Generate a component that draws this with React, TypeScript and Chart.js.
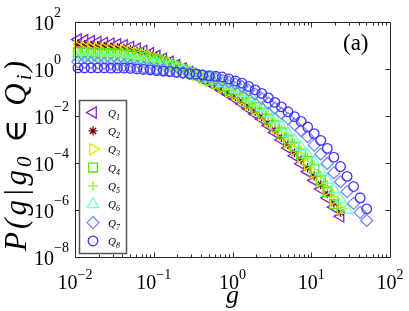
import React, { useEffect, useRef } from 'react';
import { Chart, registerables } from 'chart.js';

Chart.register(...registerables);

// g values (shared sampling grid, log-spaced)
const gValues = [
  0.0109, 0.0132, 0.016, 0.0194, 0.0235, 0.0285, 0.0345, 0.0418, 0.0506, 0.0613, 0.0743, 0.09,
  0.109, 0.132, 0.16, 0.194, 0.235, 0.285, 0.345, 0.418, 0.506, 0.613, 0.743, 0.9,
  1.09, 1.32, 1.6, 1.94, 2.35, 2.85, 3.45, 4.18, 5.06, 6.13, 7.43, 9.0,
  10.9, 13.2, 16.0, 19.4, 23.5, 28.5, 34.5, 41.8, 50.6,
];

const q1 = [17.8, 16.6, 15.1, 14.1, 12.9, 12.0, 11.2, 10.2, 8.71, 7.24, 5.89, 4.68, 3.63, 2.75, 2.04, 1.48, 1.05, 0.741, 0.525, 0.372, 0.263, 0.178, 0.12, 0.0794, 0.0525, 0.0331, 0.0204, 0.0123, 7.41e-3, 3.98e-3, 2.0e-3, 9.55e-4, 4.37e-4, 2.04e-4, 9.33e-5, 4.27e-5, 1.82e-5, 7.76e-6, 3.24e-6, 1.32e-6, 5.37e-7];
const q2 = [11.5, 11.0, 10.2, 9.77, 9.33, 8.71, 8.32, 7.76, 6.76, 5.75, 4.9, 4.07, 3.31, 2.57, 1.91, 1.45, 1.02, 0.741, 0.537, 0.389, 0.288, 0.2, 0.141, 0.0955, 0.0661, 0.0417, 0.0257, 0.0158, 9.33e-3, 5.01e-3, 2.51e-3, 1.23e-3, 6.03e-4, 2.75e-4, 1.35e-4, 6.31e-5, 2.82e-5, 1.2e-5, 4.9e-6, 2.0e-6, 7.94e-7];
const q3 = [8.71, 8.32, 7.94, 7.59, 7.41, 7.08, 6.76, 6.31, 5.62, 4.9, 4.17, 3.55, 2.95, 2.34, 1.78, 1.35, 1.0, 0.741, 0.55, 0.407, 0.309, 0.224, 0.158, 0.112, 0.0794, 0.0501, 0.0309, 0.0191, 0.0115, 6.17e-3, 3.16e-3, 1.58e-3, 7.76e-4, 3.72e-4, 1.82e-4, 8.71e-5, 3.98e-5, 1.7e-5, 6.92e-6, 2.82e-6, 1.12e-6];
const q4 = [5.25, 5.13, 5.01, 4.9, 4.79, 4.68, 4.57, 4.37, 3.98, 3.63, 3.24, 2.88, 2.51, 2.04, 1.62, 1.26, 0.955, 0.741, 0.562, 0.427, 0.331, 0.245, 0.182, 0.132, 0.0955, 0.0617, 0.038, 0.0234, 0.0141, 7.76e-3, 3.98e-3, 2.0e-3, 1.0e-3, 4.9e-4, 2.45e-4, 1.2e-4, 5.62e-5, 1.82e-5, 5.75e-6, 1.78e-6];
const q5 = [4.17, 4.07, 4.07, 3.98, 3.89, 3.89, 3.8, 3.63, 3.39, 3.09, 2.75, 2.45, 2.19, 1.82, 1.48, 1.17, 0.933, 0.724, 0.575, 0.447, 0.355, 0.269, 0.204, 0.151, 0.112, 0.0724, 0.0457, 0.0288, 0.0178, 0.01, 5.25e-3, 2.69e-3, 1.38e-3, 6.76e-4, 3.47e-4, 1.7e-4, 7.94e-5, 2.95e-5, 1.05e-5, 3.72e-6, 1.26e-6];
const q6 = [3.24, 3.16, 3.16, 3.09, 3.02, 3.02, 2.95, 2.82, 2.63, 2.4, 2.19, 2.0, 1.78, 1.51, 1.29, 1.07, 0.891, 0.741, 0.603, 0.49, 0.398, 0.316, 0.245, 0.186, 0.141, 0.0933, 0.0603, 0.038, 0.0234, 0.0132, 7.08e-3, 3.63e-3, 1.86e-3, 9.33e-4, 4.79e-4, 2.34e-4, 1.12e-4, 4.68e-5, 1.91e-5, 7.41e-6, 2.82e-6, 1.0e-6];
const q7 = [2.0, 1.91, 1.86, 1.78, 1.7, 1.62, 1.55, 1.45, 1.35, 1.26, 1.17, 1.1, 1.02, 0.933, 0.851, 0.776, 0.708, 0.646, 0.575, 0.513, 0.447, 0.389, 0.331, 0.282, 0.234, 0.178, 0.126, 0.0871, 0.0562, 0.0355, 0.0219, 0.0132, 7.76e-3, 4.37e-3, 2.4e-3, 1.32e-3, 5.75e-4, 2.4e-4, 9.55e-5, 3.8e-5, 1.58e-5, 6.03e-6, 1.91e-6, 7.94e-7, 3.55e-7];
const q8 = [1.12, 1.12, 1.12, 1.12, 1.12, 1.1, 1.1, 1.1, 1.07, 1.0, 0.955, 0.912, 0.851, 0.813, 0.776, 0.724, 0.676, 0.631, 0.603, 0.562, 0.525, 0.49, 0.457, 0.38, 0.309, 0.251, 0.182, 0.129, 0.0912, 0.0589, 0.038, 0.0245, 0.0151, 9.33e-3, 5.89e-3, 3.39e-3, 1.78e-3, 9.12e-4, 4.17e-4, 1.78e-4, 7.08e-5, 2.69e-5, 1.0e-5, 3.31e-6, 1.12e-6];

const seriesValues = [q1, q2, q3, q4, q5, q6, q7, q8];
const seriesSubs = ['1', '2', '3', '4', '5', '6', '7', '8'];
const seriesColors = ['#7F1FE0', '#780000', '#E6E600', '#55E600', '#88F530', '#6FFFD0', '#7486FF', '#4433FF'];
const seriesStyles = ['triangle', 'star', 'triangle', 'rect', 'cross', 'triangle', 'rectRot', 'circle'];
const seriesRotation = [-90, 0, 90, 0, 0, 0, 0, 0];
const seriesRadius = [6.5, 4.5, 6.5, 6.3, 5, 6.5, 6, 4.8];

const xTickValues = [0.01, 0.1, 1, 10, 100];
const xTickExps = ['\u22122', '\u22121', '0', '1', '2'];
const xMinorMultipliers = [2, 3, 4, 5, 6, 7, 8, 9];
const yTickValues = [100, 1, 0.01, 1e-4, 1e-6, 1e-8];
const yTickExps = ['2', '0', '\u22122', '\u22124', '\u22126', '\u22128'];

const SERIF = '"Liberation Serif", "Times New Roman", "DejaVu Serif", serif';
const AXIS_COLOR = '#262626';
const MARK_WIDTH = 1.3;

function drawMarker(ctx: CanvasRenderingContext2D, style: string, x: number, y: number, r: number, rotDeg: number) {
  const rad = (rotDeg * Math.PI) / 180;
  ctx.beginPath();
  switch (style) {
    case 'circle':
      ctx.arc(x, y, r, 0, Math.PI * 2);
      ctx.closePath();
      break;
    case 'triangle': {
      let a = rad;
      ctx.moveTo(x + Math.sin(a) * r, y - Math.cos(a) * r);
      a += (2 * Math.PI) / 3;
      ctx.lineTo(x + Math.sin(a) * r, y - Math.cos(a) * r);
      a += (2 * Math.PI) / 3;
      ctx.lineTo(x + Math.sin(a) * r, y - Math.cos(a) * r);
      ctx.closePath();
      break;
    }
    case 'rect': {
      const s = Math.SQRT1_2 * r;
      ctx.rect(x - s, y - s, 2 * s, 2 * s);
      break;
    }
    case 'rectRot':
      ctx.moveTo(x - r, y);
      ctx.lineTo(x, y - r);
      ctx.lineTo(x + r, y);
      ctx.lineTo(x, y + r);
      ctx.closePath();
      break;
    case 'cross':
      ctx.moveTo(x, y - r);
      ctx.lineTo(x, y + r);
      ctx.moveTo(x - r, y);
      ctx.lineTo(x + r, y);
      break;
    case 'star': {
      const d = Math.SQRT1_2 * r;
      ctx.moveTo(x, y - r);
      ctx.lineTo(x, y + r);
      ctx.moveTo(x - r, y);
      ctx.lineTo(x + r, y);
      ctx.moveTo(x - d, y - d);
      ctx.lineTo(x + d, y + d);
      ctx.moveTo(x - d, y + d);
      ctx.lineTo(x + d, y - d);
      break;
    }
  }
  ctx.stroke();
}

const decorPlugin = {
  id: 'decor',
  afterDatasetsDraw(chart: any) {
    const ctx: CanvasRenderingContext2D = chart.ctx;
    const a = chart.chartArea;
    const xs = chart.scales.x;
    const ys = chart.scales.y;
    ctx.save();

    // axes box
    ctx.strokeStyle = AXIS_COLOR;
    ctx.lineWidth = 1;
    const L = Math.round(a.left) + 0.5;
    const R = Math.round(a.right) + 0.5;
    const T = Math.round(a.top) + 0.5;
    const B = Math.round(a.bottom) + 0.5;
    ctx.strokeRect(L, T, R - L, B - T);

    const seg = (x1: number, y1: number, x2: number, y2: number) => {
      ctx.beginPath();
      ctx.moveTo(x1, y1);
      ctx.lineTo(x2, y2);
      ctx.stroke();
    };

    // x ticks (major + minor), bottom and top, inward
    xTickValues.forEach((v, i) => {
      const px = Math.round(xs.getPixelForValue(v)) + 0.5;
      seg(px, B, px, B - 5);
      seg(px, T, px, T + 5);
      if (i < xTickValues.length - 1) {
        xMinorMultipliers.forEach((m) => {
          const mx = Math.round(xs.getPixelForValue(v * m)) + 0.5;
          seg(mx, B, mx, B - 3);
          seg(mx, T, mx, T + 3);
        });
      }
    });
    // y ticks, left and right, inward
    yTickValues.forEach((v) => {
      const py = Math.round(ys.getPixelForValue(v)) + 0.5;
      seg(L, py, L + 5, py);
      seg(R, py, R - 5, py);
    });

    // tick labels
    ctx.fillStyle = '#000';
    ctx.textAlign = 'left';
    ctx.textBaseline = 'alphabetic';
    const baseFont = '20px ' + SERIF;
    const expFont = '14px ' + SERIF;
    xTickValues.forEach((v, i) => {
      const px = xs.getPixelForValue(v);
      ctx.font = baseFont;
      const w10 = ctx.measureText('10').width;
      ctx.font = expFont;
      const we = ctx.measureText(xTickExps[i]).width;
      const start = px - (w10 + we) / 2;
      ctx.font = baseFont;
      ctx.fillText('10', start, 289);
      ctx.font = expFont;
      ctx.fillText(xTickExps[i], start + w10, 279);
    });
    yTickValues.forEach((v, i) => {
      const py = ys.getPixelForValue(v);
      ctx.font = baseFont;
      const w10 = ctx.measureText('10').width;
      ctx.fillText('10', 34, py + 8);
      ctx.font = expFont;
      ctx.fillText(yTickExps[i], 34 + w10, py - 5);
    });

    // x title
    ctx.font = 'italic 26px ' + SERIF;
    ctx.textAlign = 'center';
    ctx.fillText('g', (a.left + a.right) / 2, 303);

    // y title (rotated)
    const parts: [string, boolean][] = [
      ['P', false], ['(', false], ['g', false], ['|', false], ['g', false], ['0', true],
      [' ', false], ['\u2208', false], [' ', false], ['Q', false], ['i', true], [')', false],
    ];
    const mainF = 'italic 31px ' + SERIF;
    const subF = 'italic 21px ' + SERIF;
    let natural = 0;
    const widths = parts.map(([t, sub]) => {
      ctx.font = sub ? subF : mainF;
      const w = ctx.measureText(t).width;
      natural += w;
      return w;
    });
    const totalLen = 190;
    const gap = Math.max(0, (totalLen - natural) / (parts.length - 1));
    ctx.save();
    ctx.translate(26, 251);
    ctx.rotate(-Math.PI / 2);
    ctx.textAlign = 'left';
    let s = 0;
    parts.forEach(([t, sub], i) => {
      ctx.font = sub ? subF : mainF;
      ctx.fillText(t, s, sub ? 5 : 0);
      s += widths[i] + gap;
    });
    ctx.restore();

    // (a)
    ctx.font = '23px ' + SERIF;
    ctx.textAlign = 'left';
    ctx.fillText('(a)', 343, 50);

    // legend
    const lx = 79.5, ly = 100.5, lw = 47, lh = 153;
    ctx.fillStyle = '#fff';
    ctx.fillRect(lx, ly, lw, lh);
    ctx.strokeStyle = '#555';
    ctx.lineWidth = 1.5;
    ctx.strokeRect(lx, ly, lw, lh);
    ctx.lineWidth = MARK_WIDTH;
    seriesSubs.forEach((sub, i) => {
      const cy = 112.5 + i * 18.35;
      ctx.strokeStyle = seriesColors[i];
      drawMarker(ctx, seriesStyles[i], 93, cy, seriesRadius[i], seriesRotation[i]);
      ctx.fillStyle = '#000';
      ctx.font = 'italic 11px ' + SERIF;
      ctx.fillText('Q', 108, cy + 4);
      const wq = ctx.measureText('Q').width;
      ctx.font = 'italic 8px ' + SERIF;
      ctx.fillText(sub, 108 + wq, cy + 7);
    });

    ctx.restore();
  },
};

export default function App() {
  const canvasRef = useRef<HTMLCanvasElement | null>(null);

  useEffect(() => {
    document.body.style.margin = '0';
    const canvas = canvasRef.current;
    if (!canvas) return;
    const datasets = seriesValues.map((vals, i) => ({
      label: 'Q' + seriesSubs[i],
      data: vals.map((y, k) => ({ x: gValues[k], y })),
      showLine: false,
      pointStyle: seriesStyles[i] as any,
      pointRotation: seriesRotation[i],
      pointRadius: seriesRadius[i],
      pointBorderWidth: MARK_WIDTH,
      borderColor: seriesColors[i],
      pointBorderColor: seriesColors[i],
      backgroundColor: 'rgba(0,0,0,0)',
      pointBackgroundColor: 'rgba(0,0,0,0)',
      order: 7 - i,
      clip: false as any,
    }));
    const chart = new Chart(canvas, {
      type: 'scatter',
      data: { datasets },
      options: {
        animation: false,
        responsive: true,
        maintainAspectRatio: false,
        events: [],
        layout: { padding: { left: 75, right: 19, top: 22, bottom: 54 } },
        scales: {
          x: { type: 'logarithmic', min: 0.01, max: 100, display: false },
          y: { type: 'logarithmic', min: 1e-8, max: 100, display: false },
        },
        plugins: { legend: { display: false }, tooltip: { enabled: false } },
      },
      plugins: [decorPlugin],
    });
    return () => chart.destroy();
  }, []);

  return (
    <div style={{ position: 'fixed', left: 0, top: 0, width: 409, height: 311, background: '#fff' }}>
      <canvas ref={canvasRef} />
    </div>
  );
}
